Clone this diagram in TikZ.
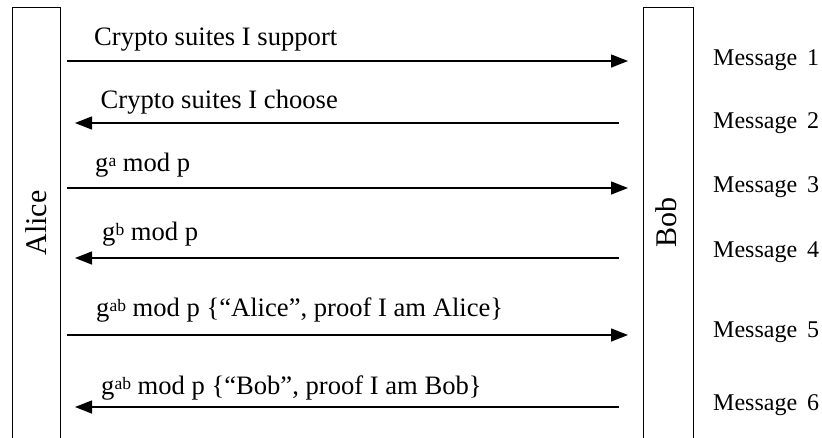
\documentclass[tikz,border=0pt]{standalone}
\usepackage{fontspec}
\setmainfont{Liberation Serif}
\usetikzlibrary{arrows.meta}

% small raised exponent, as set in the labels
\newcommand{\expo}[1]{\raisebox{5pt}{\fontsize{17.5}{17.5}\selectfont #1}}

\tikzset{
  party/.style={draw=black, line width=0.9pt, minimum width=48pt, minimum height=450pt,
                inner sep=0pt, anchor=north},
  partyname/.style={rotate=90, font=\fontsize{30}{30}\selectfont, inner sep=0pt},
  msglabel/.style={anchor=base west, font=\fontsize{26.6}{28}\selectfont, inner sep=0pt},
  msgno/.style={anchor=base west, font=\fontsize{24}{26}\selectfont, inner sep=0pt},
  msgarrow/.style={line width=1.4pt, -{Triangle[length=17pt,width=13pt]}},
}

\begin{document}
\begin{tikzpicture}[x=1pt, y=-1pt]
  \useasboundingbox (0,0) rectangle (822,437);
  \clip (0,0) rectangle (822,437);

  % the two parties, open at the bottom
  \node[party] (alice) at (36,7) {};
  \node[party, minimum width=50pt] (bob) at (668,7) {};
  \node[partyname] (alicename) at (36,223) {Alice};
  \node[partyname] (bobname) at (666,222) {Bob};

  % arrow end points
  \coordinate (a1) at (67,61);   \coordinate (b1) at (628,61);
  \coordinate (b2) at (619,123); \coordinate (a2) at (75,123);
  \coordinate (a3) at (67,188);  \coordinate (b3) at (628,188);
  \coordinate (b4) at (619,258); \coordinate (a4) at (75,258);
  \coordinate (a5) at (67,335);  \coordinate (b5) at (628,335);
  \coordinate (b6) at (619,407); \coordinate (a6) at (75,407);

  \draw[msgarrow] (a1) -- (b1);
  \draw[msgarrow] (b2) -- (a2);
  \draw[msgarrow] (a3) -- (b3);
  \draw[msgarrow] (b4) -- (a4);
  \draw[msgarrow] (a5) -- (b5);
  \draw[msgarrow] (b6) -- (a6);

  % what each message carries
  \node[msglabel] (l1) at (94,45)   {Crypto suites I support};
  \node[msglabel] (l2) at (100.5,108) {Crypto suites I choose};
  \node[msglabel] (l3) at (95,171)  {g\expo{a} mod p};
  \node[msglabel] (l4) at (102,240) {g\expo{b} mod p};
  \node[msglabel] (l5) at (96,316)  {g\expo{ab} mod p \{“Alice”, proof I am Alice\}};
  \node[msglabel] (l6) at (101,394) {g\expo{ab} mod p \{“Bob”, proof I am Bob\}};

  % message numbers
  \node[msgno] (m1) at (713,65)  {Message\, 1};
  \node[msgno] (m2) at (713,128) {Message\, 2};
  \node[msgno] (m3) at (713,192) {Message\, 3};
  \node[msgno] (m4) at (713,257) {Message\, 4};
  \node[msgno] (m5) at (713,337) {Message\, 5};
  \node[msgno] (m6) at (713,410) {Message\, 6};
\end{tikzpicture}
\end{document}
